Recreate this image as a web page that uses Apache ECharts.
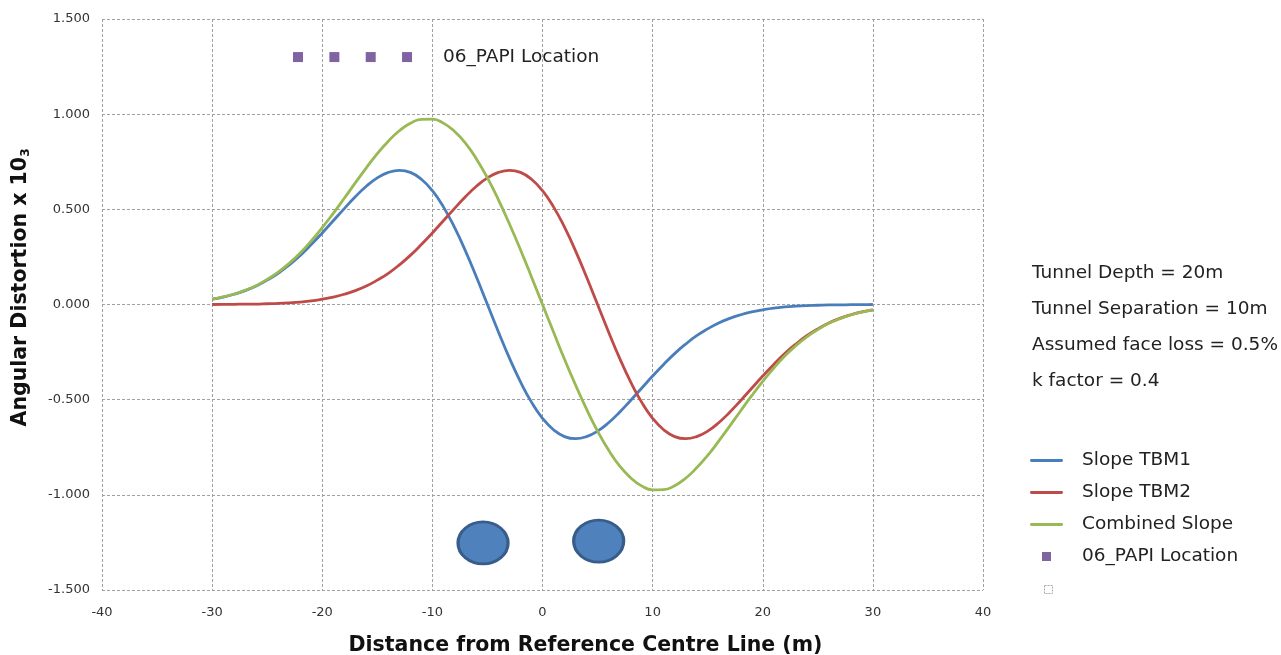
<!DOCTYPE html>
<html>
<head>
<meta charset="utf-8">
<script src="https://cdn.jsdelivr.net/npm/echarts@6/dist/echarts.min.js"></script>
<style>html,body{margin:0;padding:0;background:#fff}#c{width:1281px;height:655px}</style>
</head>
<body>
<div id="c"></div>
<script>
const xs = [-30,-29,-28,-27,-26,-25,-24,-23,-22,-21,-20,-19,-18,-17,-16,-15,-14,-13,-12,-11,-10,-9,-8,-7,-6,-5,-4,-3,-2,-1,0,1,2,3,4,5,6,7,8,9,10,11,12,13,14,15,16,17,18,19,20,21,22,23,24,25,26,27,28,29,30];
const slopeTBM1 = [0.028,0.039,0.054,0.073,0.097,0.128,0.164,0.208,0.258,0.315,0.376,0.440,0.504,0.566,0.621,0.665,0.694,0.705,0.694,0.658,0.598,0.513,0.406,0.282,0.144,0.000,-0.144,-0.282,-0.406,-0.513,-0.598,-0.658,-0.694,-0.705,-0.694,-0.665,-0.621,-0.566,-0.504,-0.440,-0.376,-0.315,-0.258,-0.208,-0.164,-0.128,-0.097,-0.073,-0.054,-0.039,-0.028,-0.019,-0.013,-0.009,-0.006,-0.004,-0.002,-0.002,-0.001,-0.001,0.000];
const slopeTBM2 = [0.000,0.001,0.001,0.002,0.002,0.004,0.006,0.009,0.013,0.019,0.028,0.039,0.054,0.073,0.097,0.128,0.164,0.208,0.258,0.315,0.376,0.440,0.504,0.566,0.621,0.665,0.694,0.705,0.694,0.658,0.598,0.513,0.406,0.282,0.144,0.000,-0.144,-0.282,-0.406,-0.513,-0.598,-0.658,-0.694,-0.705,-0.694,-0.665,-0.621,-0.566,-0.504,-0.440,-0.376,-0.315,-0.258,-0.208,-0.164,-0.128,-0.097,-0.073,-0.054,-0.039,-0.028];
const combinedSlope = [0.028,0.040,0.055,0.075,0.099,0.132,0.170,0.217,0.271,0.334,0.404,0.479,0.558,0.639,0.718,0.793,0.858,0.913,0.952,0.973,0.974,0.953,0.910,0.848,0.765,0.665,0.550,0.423,0.288,0.145,0.000,-0.145,-0.288,-0.423,-0.550,-0.665,-0.765,-0.848,-0.910,-0.953,-0.974,-0.973,-0.952,-0.913,-0.858,-0.793,-0.718,-0.639,-0.558,-0.479,-0.404,-0.334,-0.271,-0.217,-0.170,-0.132,-0.099,-0.075,-0.055,-0.040,-0.028];
const papiX = [-22.2,-18.9,-15.6,-12.3];
const papiY = [1.3,1.3,1.3,1.3];
const tunnelX = [-5.4,5.1];
const tunnelY = [-1.253,-1.243];
const notes = ['Tunnel Depth = 20m','Tunnel Separation = 10m','Assumed face loss = 0.5%','k factor = 0.4'];
const seriesNames = ['Slope TBM1','Slope TBM2','Combined Slope','06_PAPI Location'];

const FONT = 'DejaVu Sans';
const zip = (a,b) => a.map((v,i)=>[v,b[i]]);
const chart = echarts.init(document.getElementById('c'), null, {renderer:'canvas'});
const gridLine = {show:true, lineStyle:{color:'#a0a0a0', type:[3,2], width:1}};
const lineS = (name, data, color) => ({
  name, type:'line', data: zip(xs,data), smooth:true, symbol:'none', showSymbol:false,
  lineStyle:{color, width:2.8}, itemStyle:{color}, z:3, silent:true
});
const lineIcon = 'path://M0,0 M33,14 M1,5.5 h31 a1.5,1.5 0 0 1 0,3 h-31 a1.5,1.5 0 0 1 0,-3 z';
chart.setOption({
  animation:false,
  textStyle:{fontFamily:FONT},
  grid:{left:102, right:298, top:19, bottom:65, outerBoundsMode:'none', containLabel:false},
  xAxis:{type:'value', min:-40, max:40, interval:10,
    axisLine:{show:false}, axisTick:{show:false}, splitLine:gridLine,
    axisLabel:{color:'#333', fontSize:13, margin:16, fontFamily:FONT},
    name:'Distance from Reference Centre Line (m)', nameLocation:'middle', nameGap:45,
    nameTextStyle:{fontSize:20.5, fontWeight:'bold', color:'#111', padding:[0,0,0,86], fontFamily:FONT}
  },
  yAxis:{type:'value', min:-1.5, max:1.5, interval:0.5,
    axisLine:{show:false}, axisTick:{show:false}, splitLine:gridLine,
    axisLabel:{color:'#333', fontSize:13, margin:12, formatter:v=>v.toFixed(3), fontFamily:FONT},
    name:'{a|Angular Distortion x 10}{s|3}', nameLocation:'middle', nameGap:70,
    nameTextStyle:{padding:[0,0,0,34], rich:{
      a:{fontSize:20.5, fontWeight:'bold', color:'#111', fontFamily:FONT},
      s:{fontSize:12, fontWeight:'bold', color:'#111', fontFamily:FONT, padding:[11,0,0,0]}
    }}
  },
  legend:{orient:'vertical', left:1030, top:451, padding:0, itemWidth:33, itemHeight:14, itemGap:13,
    textStyle:{fontSize:18.5, color:'#222', fontFamily:FONT, padding:[0,0,0,14]},
    selectedMode:false,
    data:[
      {name:seriesNames[0], icon:lineIcon},{name:seriesNames[1], icon:lineIcon},{name:seriesNames[2], icon:lineIcon},
      {name:seriesNames[3], icon:'path://M0,0 M33,14 M12,2.5 h9 v9 h-9 z'}
    ]
  },
  series:[
    lineS(seriesNames[0], slopeTBM1, '#4a7ebb'),
    lineS(seriesNames[1], slopeTBM2, '#be4b48'),
    lineS(seriesNames[2], combinedSlope, '#98b954'),
    {name:seriesNames[3], type:'scatter', data: zip(papiX,papiY), symbol:'rect', symbolSize:10,
      itemStyle:{color:'#8064a2', opacity:1}, silent:true, z:4,
      label:{show:true, position:'right', distance:31, fontSize:18.5, color:'#222', fontFamily:FONT,
        formatter:p => p.dataIndex === papiX.length-1 ? seriesNames[3] : ''}
    },
    {name:'Tunnels', type:'scatter', data: zip(tunnelX,tunnelY), symbol:'circle', symbolSize:[50,42],
      itemStyle:{color:'#4f81bd', borderColor:'#385d8a', borderWidth:3, opacity:1}, silent:true, z:2}
  ],
  graphic:[
    ...notes.map((t,i)=>({type:'text', left:1032, top:264+i*36, style:{text:t, fontSize:18.5, fill:'#222', fontFamily:FONT}})),
    {type:'rect', left:1042, top:583, shape:{width:8,height:8}, style:{fill:'none', stroke:'#aaa', lineWidth:1, lineDash:[2,1]}}
  ]
});
</script>
</body>
</html>
